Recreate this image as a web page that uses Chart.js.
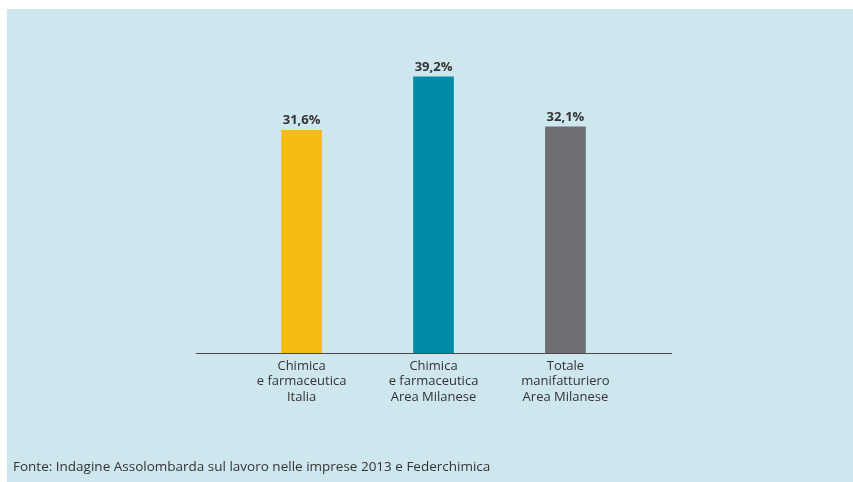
<!DOCTYPE html>
<html>
<head>
<meta charset="utf-8">
<script src="https://cdn.jsdelivr.net/npm/chart.js@4/dist/chart.umd.min.js"></script>
<style>
  html, body { margin: 0; padding: 0; background: #ffffff; }
  #wrap { position: relative; width: 853px; height: 482px; overflow: hidden; }
  #panel { position: absolute; left: 7px; top: 9px; right: 0; bottom: 0; background: #cee6ed; }
  #chart { position: absolute; left: 0; top: 0; }
  #source {
    position: absolute; left: 13px; top: 457px;
    font-family: "Open Sans", sans-serif; font-size: 13.5px; color: #333333;
    white-space: nowrap;
  }
</style>
</head>
<body>
<div id="wrap">
  <div id="panel"></div>
  <canvas id="chart" width="853" height="482"></canvas>
  <div id="source">Fonte: Indagine Assolombarda sul lavoro nelle imprese 2013 e Federchimica</div>
</div>
<script>
// Categories (multi-line labels) and values in percent
const categories = [
  ["Chimica", "e farmaceutica", "Italia"],
  ["Chimica", "e farmaceutica", "Area Milanese"],
  ["Totale", "manifatturiero", "Area Milanese"]
];
const values = [31.6, 39.2, 32.1];
const valueLabels = ["31,6%", "39,2%", "32,1%"];
const barColors = ["#f5bd13", "#008ca8", "#6d6e71"];

// Value labels printed above each bar
const valueLabelPlugin = {
  id: "valueLabels",
  afterDatasetsDraw(chart) {
    const ctx = chart.ctx;
    const meta = chart.getDatasetMeta(0);
    ctx.save();
    ctx.font = "bold 13px 'Open Sans', sans-serif";
    ctx.fillStyle = "#333333";
    ctx.textAlign = "center";
    ctx.textBaseline = "alphabetic";
    meta.data.forEach((bar, i) => {
      ctx.fillText(valueLabels[i], bar.x, bar.y - 6);
    });
    ctx.restore();
  }
};

new Chart(document.getElementById("chart"), {
  type: "bar",
  data: {
    datasets: [{
      data: values.map((v, i) => ({ x: i, y: v })),
      backgroundColor: barColors,
      borderWidth: 0,
      barThickness: 40
    }]
  },
  options: {
    responsive: false,
    animation: false,
    events: [],
    layout: { padding: { left: 196, right: 182, top: 36, bottom: 0 } },
    plugins: {
      legend: { display: false },
      tooltip: { enabled: false },
      title: { display: false }
    },
    scales: {
      x: {
        type: "linear",
        offset: false,
        min: -0.8,
        max: 2.8,
        afterBuildTicks(scale) {
          scale.ticks = categories.map((_, i) => ({ value: i }));
        },
        afterFit(scale) { scale.height = 129; },
        grid: { display: false, drawTicks: false, offset: false },
        border: { display: true, color: "#4a4a4a", width: 1 },
        ticks: {
          autoSkip: false,
          maxRotation: 0,
          padding: 5,
          color: "#333333",
          font: { family: "'Open Sans', sans-serif", size: 13, lineHeight: 1.2 },
          callback: (value) => categories[value] || ""
        }
      },
      y: {
        display: false,
        min: 0,
        max: 45
      }
    }
  },
  plugins: [valueLabelPlugin]
});
</script>
</body>
</html>
